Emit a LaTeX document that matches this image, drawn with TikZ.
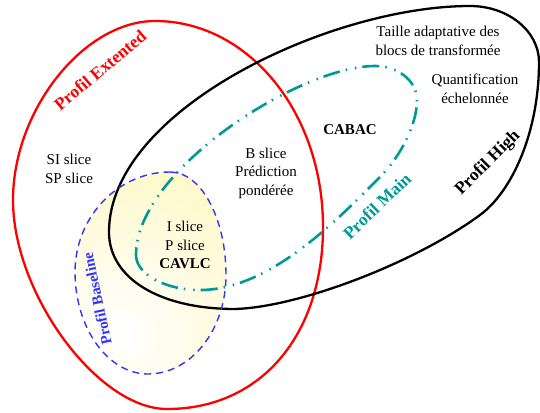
\documentclass[tikz,border=0pt]{standalone}
\usepackage{fontspec}
\setmainfont{Liberation Serif}
\definecolor{mainteal}{RGB}{0,153,153}
\definecolor{baseblue}{RGB}{51,51,255}
\definecolor{baseyellow}{RGB}{255,244,165}
\newcommand{\baselineshape}{(170,172) .. controls (201,172) and (226,218) .. (226,275) .. controls (226,330) and (191,374) .. (148,374) .. controls (108,374) and (75,328) .. (75,272) .. controls (75,217) and (118,172) .. (170,172) -- cycle}
\tikzset{
  profile/.style={line width=2.3pt},
  plabel/.style={font=\fontsize{17.5}{20}\selectfont\bfseries},
  ptext/.style={align=center, font=\fontsize{15}{18.5}\selectfont},
  maindash/.style={dash pattern=on 17pt off 6pt on 1.5pt off 8pt on 1.5pt off 6pt},
}
\begin{document}
\begin{tikzpicture}[x=1pt,y=-1pt]
  \useasboundingbox (0,0) rectangle (540,412);

  % Filling profile Baseline
  \begin{scope}
    \clip \baselineshape;
    \shade[inner color=white, outer color=baseyellow] (118,335) circle (290);
  \end{scope}

  % Drawing profile Extented
  \draw [profile, red] (13,200) .. controls (13,110) and (84,21) .. (155,21) .. controls (248,21) and (323,112) .. (323,227) .. controls (323,335) and (261,409) .. (167,409) .. controls (98,409) and (13,294) .. (13,200) -- cycle;

  % Drawing profile High
  \draw [profile] (109,232) .. controls (109,278) and (159,309) .. (235,309) .. controls (300,307) and (415.6,262.4) .. (480,215) .. controls (512.2,191.3) and (539,132) .. (539,62) .. controls (539,31) and (508,6) .. (470,6) .. controls (330,6) and (109,110) .. (109,232) -- cycle;

  % Drawing profile Main
  \draw [line width=2.6pt, mainteal, maindash] (136,255) .. controls (136,274) and (165,290) .. (200,290) .. controls (270,290) and (337.6,219.4) .. (380,177) .. controls (400,157) and (417,125) .. (417,100) .. controls (417,81) and (398,66) .. (375,66) .. controls (300,66) and (136,170) .. (136,255) -- cycle;

  % Drawing profile Baseline
  \draw [line width=1.4pt, baseblue, dash pattern=on 7pt off 5pt] \baselineshape;

  % Marking profile names
  \node [plabel, red, rotate=40] (extented) at (100,70) {Profil Extented};
  \node [plabel, rotate=45] (high) at (488,163) {Profil High};
  \node [plabel, mainteal, rotate=44] (main) at (377,206) {Profil Main};
  \node [plabel, baseblue, font=\fontsize{15}{18}\selectfont\bfseries, rotate=102] (baseline) at (97,299) {Profil Baseline};

  % Marking tools
  \node [ptext] (sisp) at (69,169) {SI slice\\SP slice};
  \node [ptext] (bslice) at (266,173) {B slice\\Prédiction\\pondérée};
  \node [ptext] (cabac) at (350,130) {\textbf{CABAC}};
  \node [ptext] (taille) at (438,41) {Taille adaptative des\\blocs de transformée};
  \node [ptext] (quant) at (475,89) {Quantification\\échelonnée};
  \node [ptext] (ipslice) at (185,245) {I slice\\P slice\\\textbf{CAVLC}};
\end{tikzpicture}
\end{document}
